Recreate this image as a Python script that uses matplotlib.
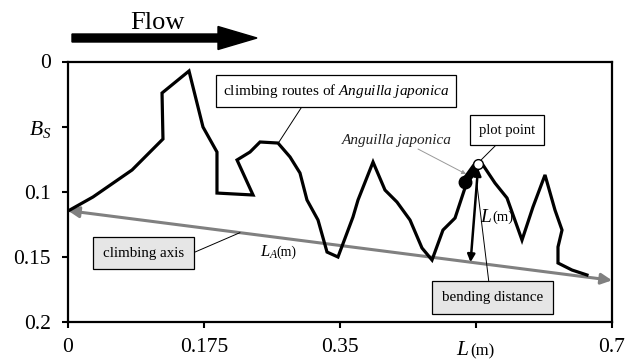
"""Eel climbing route over the slope, with climbing axis and bending distance."""
import matplotlib
matplotlib.use("Agg")
import matplotlib.pyplot as plt
from matplotlib.patches import FancyArrow

plt.rcParams["font.family"] = ["Liberation Serif", "DejaVu Serif"]
plt.rcParams["mathtext.fontset"] = "custom"
plt.rcParams["mathtext.rm"] = "Liberation Serif"
plt.rcParams["mathtext.it"] = "Liberation Serif:italic"

# climbing route of the eel (L along the channel, B_s across it)
route_L = [0.0, 0.0322, 0.0824, 0.1222, 0.1210, 0.1557, 0.1737, 0.1917, 0.1917,
           0.2381, 0.2175, 0.2342, 0.2471, 0.2702, 0.2857, 0.2985, 0.3075, 0.3217,
           0.3333, 0.3474, 0.3667, 0.3732, 0.3925, 0.4079, 0.4233, 0.4401, 0.4555,
           0.4684, 0.4825, 0.4980, 0.5108, 0.5211, 0.5276, 0.5340, 0.5494, 0.5649,
           0.5842, 0.5983, 0.6138, 0.6266, 0.6357, 0.6305, 0.6305, 0.6485, 0.6678]
route_B = [0.1148, 0.1040, 0.0833, 0.0595, 0.0242, 0.0073, 0.0503, 0.0695, 0.1010,
           0.1025, 0.0756, 0.0695, 0.0618, 0.0626, 0.0733, 0.0856, 0.1063, 0.1217,
           0.1463, 0.1501, 0.1194, 0.1063, 0.0772, 0.0987, 0.1079, 0.1217, 0.1432,
           0.1524, 0.1294, 0.1202, 0.0971, 0.0833, 0.0787, 0.0795, 0.0933, 0.1048,
           0.1371, 0.1117, 0.0871, 0.1140, 0.1294, 0.1424, 0.1547, 0.1601, 0.1639]

# straight climbing axis from start to end of the reach
axis_L = [0.0, 0.7]
axis_B = [0.1145, 0.168]

# current plot point and the eel body just behind it
point_L, point_B = 0.5276, 0.0787
eel_L = [0.5134, 0.5263]
eel_B = [0.0902, 0.0795]
foot_L = 0.518

xticks = [0, 0.175, 0.35, 0.525, 0.7]
xticklabels = ["0", "0.175", "0.35", "", "0.7"]
yticks = [0, 0.05, 0.1, 0.15, 0.2]
yticklabels = ["0", r"$\mathit{B}_{\mathit{S}}$", "0.1", "0.15", "0.2"]

fig = plt.figure(figsize=(6.27, 3.63), dpi=100)
ax = fig.add_axes([68 / 627, 1 - 322 / 363, 544 / 627, 260.5 / 363])

ax.plot(route_L, route_B, color="black", lw=2.3, solid_joinstyle="miter", zorder=3)

ax.annotate("", xy=(axis_L[1], axis_B[1]), xytext=(axis_L[0], axis_B[0]),
            arrowprops=dict(arrowstyle="<|-|>", color="#808080", lw=2.2,
                            mutation_scale=16, shrinkA=0, shrinkB=0), zorder=2)

# bending distance from the plot point down to the climbing axis
foot_B = axis_B[0] + (axis_B[1] - axis_B[0]) * foot_L / axis_L[1]
ax.annotate("", xy=(foot_L, foot_B), xytext=(point_L, point_B + 0.003),
            arrowprops=dict(arrowstyle="<|-|>", color="black", lw=1.8,
                            mutation_scale=11, shrinkA=0, shrinkB=0), zorder=4)

ax.plot(eel_L, eel_B, color="black", lw=6, solid_capstyle="round", zorder=5)
ax.plot(eel_L[0] - 0.002, eel_B[0] + 0.002, "o", color="black", ms=9, zorder=5)
ax.plot(point_L, point_B, "o", mfc="white", mec="black", mew=1.0, ms=7, zorder=6)

box_w = dict(boxstyle="square,pad=0.45", fc="white", ec="black", lw=0.9)
box_p = dict(boxstyle="square,pad=0.6", fc="white", ec="black", lw=0.9)
box_g = dict(boxstyle="square,pad=0.65", fc="#e6e6e6", ec="black", lw=0.9)
thin = dict(arrowstyle="-", color="black", lw=0.7, shrinkA=0, shrinkB=0)

ax.text(0.3451, 0.0227, r"climbing routes of $\mathit{Anguilla\ japonica}$",
        ha="center", va="center", fontsize=11, bbox=box_w, zorder=7)
ax.annotate("", xy=(0.2715, 0.0618), xytext=(0.3024, 0.0334), arrowprops=thin)

ax.text(0.4230, 0.0603, "Anguilla japonica", style="italic",
        ha="center", va="center", fontsize=11, color="#222222")
ax.annotate("", xy=(0.5121, 0.0864), xytext=(0.4504, 0.0672),
            arrowprops=dict(arrowstyle="-|>", color="#999999", lw=0.7,
                            mutation_scale=6, shrinkA=0, shrinkB=0))

ax.text(0.5645, 0.0526, "plot point", ha="center", va="center", fontsize=10.5,
        bbox=box_p, zorder=7)
ax.annotate("", xy=(0.5314, 0.0757), xytext=(0.5520, 0.0634), arrowprops=thin)

ax.text(0.5301, 0.1194, "L", style="italic", ha="left", va="center", fontsize=14)
ax.text(0.5465, 0.1194, "(m)", ha="left", va="center", fontsize=10.5)

ax.text(0.5458, 0.1812, "bending distance", ha="center", va="center",
        fontsize=10.8, bbox=box_g, zorder=7)
ax.annotate("", xy=(0.5263, 0.0948), xytext=(0.5417, 0.1701), arrowprops=thin)

ax.text(0.0971, 0.1472, "climbing axis", ha="center", va="center",
        fontsize=10.8, bbox=box_g, zorder=7)
ax.annotate("", xy=(0.2213, 0.1314), xytext=(0.1634, 0.1463), arrowprops=thin)

ax.text(0.2471, 0.1468, r"$\mathit{L}_{\mathit{A}}$", ha="left", va="center", fontsize=12)
ax.text(0.2685, 0.1468, "(m)", ha="left", va="center", fontsize=10)

ax.set_xlim(0, 0.7)
ax.set_ylim(0.2, 0)
ax.set_xticks(xticks)
ax.set_xticklabels(xticklabels)
ax.set_yticks(yticks)
ax.set_yticklabels(yticklabels)
ax.tick_params(axis="both", direction="out", length=4.3, width=1.5, labelsize=15.5)
ax.tick_params(axis="x", pad=7)
ax.tick_params(axis="y", pad=8)
for s in ax.spines.values():
    s.set_linewidth(1.6)

# axis title sits in the 0.525 tick slot
xtr = ax.get_xaxis_transform()
ax.text(0.5002, -0.127, "L", style="italic", transform=xtr, fontsize=15.5,
        ha="left", va="baseline")
ax.text(0.5173, -0.127, "(m)", transform=xtr, fontsize=12,
        ha="left", va="baseline")

# flow direction above the plot
fig.add_artist(FancyArrow(0.72, 3.25, 1.85, 0, width=0.08, head_width=0.23,
                          head_length=0.39, length_includes_head=True,
                          color="black", transform=fig.dpi_scale_trans))
fig.text(157 / 627, 1 - 23 / 363, "Flow", ha="center", va="center", fontsize=19)

fig.savefig("out.png", dpi=100)
